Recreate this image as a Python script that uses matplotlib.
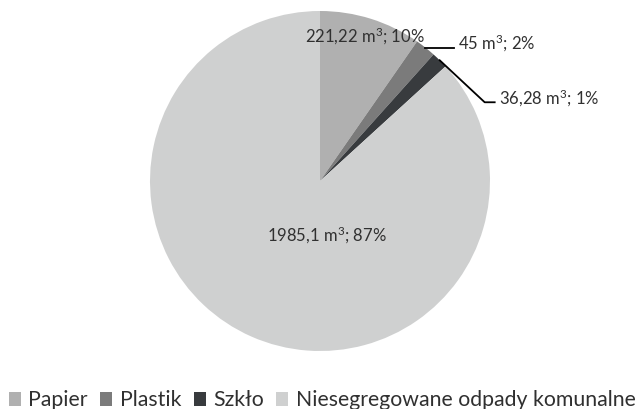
import numpy as np
import matplotlib
matplotlib.use("Agg")
import matplotlib.pyplot as plt

categories = ["Papier", "Plastik", "Szkło", "Niesegregowane odpady komunalne"]
values = [221.22, 45, 36.28, 1985.1]
value_labels = ["221,22", "45", "36,28", "1985,1"]
percents = ["10%", "2%", "1%", "87%"]
colors = ["#b0b0b0", "#7b7b7b", "#383b3e", "#cfd0d0"]

plt.rcParams['font.family'] = ['Lato', 'DejaVu Sans']
plt.rcParams['mathtext.fontset'] = 'custom'
plt.rcParams['mathtext.rm'] = 'Lato'
plt.rcParams['mathtext.it'] = 'Lato:italic'
plt.rcParams['mathtext.bf'] = 'Lato:bold'
plt.rcParams['mathtext.default'] = 'regular'
W, H = 639, 409
fig = plt.figure(figsize=(W / 100, H / 100), dpi=100)
ax = fig.add_axes([0, 0, 1, 1])

cx, cy, R = 320, H - 181, 170
wedges, _ = ax.pie(values, colors=colors, startangle=90, counterclock=False,
                   center=(cx, cy), radius=R, frame=True,
                   wedgeprops=dict(linewidth=0))
ax.set_xlim(0, W)
ax.set_ylim(0, H)
ax.axis('off')

txt_color = "#303030"
fs = 12
labels = [f"{v} m$^3$; {p}" for v, p in zip(value_labels, percents)]

def mid(w):
    return np.deg2rad((w.theta1 + w.theta2) / 2)

# Papier: inside near edge
a = mid(wedges[0])
ax.text(cx + 0.89 * R * np.cos(a), cy + 0.89 * R * np.sin(a), labels[0],
        ha='center', va='center', fontsize=fs, color=txt_color)

# Plastik: leader horizontal
a = mid(wedges[1])
p0 = (cx + R * np.cos(a), cy + R * np.sin(a))
p1 = (p0[0] + 29, p0[1])
ax.plot([p0[0], p1[0]], [p0[1], p1[1]], color='black', lw=1.3)
ax.text(p1[0] + 4, p1[1] + 4, labels[1], ha='left', va='center', fontsize=fs, color=txt_color)

# Szkło: leader diagonal then horizontal
a = mid(wedges[2])
p0 = (cx + R * np.cos(a), cy + R * np.sin(a))
p1 = (p0[0] + 45, p0[1] - 42)
p2 = (p1[0] + 10, p1[1])
ax.plot([p0[0], p1[0], p2[0]], [p0[1], p1[1], p2[1]], color='black', lw=1.3)
ax.text(p2[0] + 4, p2[1] + 4, labels[2], ha='left', va='center', fontsize=fs, color=txt_color)

# Niesegregowane: inside
ax.text(cx + 7, cy - 0.32 * R, labels[3], ha='center', va='center', fontsize=fs, color=txt_color)

leg = ax.legend(wedges, categories, loc='upper left', bbox_to_anchor=(9 / W, 18.5 / H),
                ncol=4, frameon=False, fontsize=15.3, handlelength=0.57, handleheight=0.57,
                handletextpad=0.33, columnspacing=0.6, borderaxespad=0, borderpad=0)
for t in leg.get_texts():
    t.set_color(txt_color)

fig.savefig("out.png", dpi=100)
